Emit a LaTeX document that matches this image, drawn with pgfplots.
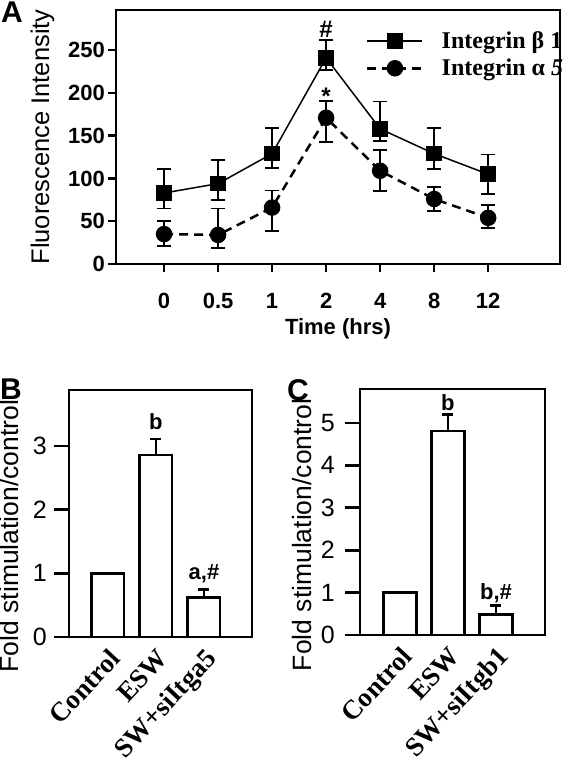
\documentclass[border=0pt]{standalone}
\usepackage{fontspec}
\setmainfont{Liberation Sans}
\newfontfamily\serifb{Liberation Serif}
\usepackage{pgfplots}
\usepackage{pgfplotstable}
\pgfplotsset{compat=1.18}

\pgfplotstableread{
x y ep em
0 83 28 18
1 94 28 19
2 129 30 17
3 241 21 14
4 158 32 14
5 129 30 18
6 105 23 23
}\betaone

\pgfplotstableread{
x y ep em
0 35 15 14
1 34 31 15
2 66 20 27
3 171 20 28
4 109 24 24
5 76 14 14
6 54 15 12
}\alphafive

\pgfplotstableread{
x y e
0 1.00 0
1 2.86 0.25
2 0.62 0.13
}\tabB

\pgfplotstableread{
x y e
0 1.00 0
1 4.81 0.38
2 0.49 0.21
}\tabC

\begin{document}
\begin{tikzpicture}
\useasboundingbox (0pt,0pt) rectangle (566pt,-759pt);

% ---------------- Panel A ----------------
\begin{axis}[
  at={(116pt,-264pt)}, anchor=south west, scale only axis,
  width=444pt, height=254pt,
  xmin=-0.89, xmax=7.33, ymin=0, ymax=297,
  xtick={0,1,2,3,4,5,6}, xticklabels={0,0.5,1,2,4,8,12},
  ytick={0,50,100,150,200,250},
  tick align=outside, xtick pos=bottom, ytick pos=left,
  major tick length=8pt,
  tick style={black, line width=2.5pt},
  axis line style={line width=2.8pt},
  /pgf/number format/assume math mode=true,
  ticklabel style={font=\fontsize{22}{24}\selectfont\bfseries, inner sep=0pt},
  xticklabel shift=21pt, yticklabel shift=3pt,
  xlabel={Time (hrs)},
  xlabel style={font=\fontsize{22}{24}\selectfont\bfseries, at={(axis description cs:0.5,-0.255)}, anchor=center, inner sep=0pt},
  ylabel={Fluorescence Intensity},
  ylabel style={font=\fontsize{25.5}{27}\selectfont, at={(axis description cs:-0.1655,0.5)}, anchor=center, inner sep=0pt},
  legend style={draw=none, fill=none, at={(axis description cs:0.563,0.915)}, anchor=north west,
    font=\serifb\bfseries\fontsize{24}{26}\selectfont, inner sep=0pt, row sep=9pt,
    nodes={inner sep=0pt}, /tikz/every odd column/.append style={column sep=18pt}},
  legend cell align=left,
  legend image code/.code={\draw[mark repeat=2,mark phase=2,#1] plot coordinates {(0pt,0pt) (27.5pt,0pt) (55pt,0pt)};},
]
\addplot[black, line width=1.5pt, mark=square*, mark size=7pt, mark options={solid},
  error bars/.cd, y dir=both, y explicit,
  error bar style={line width=1.8pt, solid},
  error mark options={rotate=90, mark size=7pt, line width=1.8pt, solid}]
  table[x=x, y=y, y error plus=ep, y error minus=em]{\betaone};
\addlegendentry{Integrin β 1}
\addplot[black, line width=2.5pt, dash pattern=on 9pt off 6pt, mark=*, mark size=7pt, mark options={solid},
  error bars/.cd, y dir=both, y explicit,
  error bar style={line width=1.8pt, solid},
  error mark options={rotate=90, mark size=7pt, line width=1.8pt, solid}]
  table[x=x, y=y, y error plus=ep, y error minus=em]{\alphafive};
\addlegendentry{Integrin α \textit{5}}
\node[font=\fontsize{24}{26}\selectfont\bfseries] at (axis cs:3,274) {\#};
\node[font=\fontsize{24}{26}\selectfont\bfseries] at (axis cs:3,196) {*};
\end{axis}

% ---------------- Panel B ----------------
\begin{axis}[
  at={(69pt,-637pt)}, anchor=south west, scale only axis,
  width=183pt, height=247pt,
  xmin=-0.81, xmax=3.0, ymin=0, ymax=3.88,
  xtick={0,1,2}, xticklabels={Control,ESW,SW+siItga5},
  ytick={0,1,2,3},
  tick align=outside, xtick pos=bottom, ytick pos=left,
  major tick length=15pt,
  tick style={black, line width=2.8pt},
  major x tick style={draw=none},
  axis line style={line width=2.8pt},
  /pgf/number format/assume math mode=true,
  yticklabel style={font=\fontsize{25}{27}\selectfont, inner sep=0pt},
  yticklabel shift=7pt,
  xticklabel style={font=\serifb\bfseries\fontsize{27}{29}\selectfont, rotate=47, anchor=north east, inner sep=0pt},
  xticklabel shift=-5pt,
  ylabel={Fold stimulation/control},
  ylabel style={font=\fontsize{26.5}{28}\selectfont, at={(axis description cs:-0.328,0.409)}, anchor=center, inner sep=0pt},
]
\addplot[ybar, bar width=0.67, fill=white, draw=black, line width=2.8pt,
  error bars/.cd, y dir=plus, y explicit,
  error bar style={line width=2.8pt},
  error mark options={rotate=90, mark size=5.5pt, line width=2.8pt}]
  table[x=x, y=y, y error=e]{\tabB};
\node[font=\fontsize{22}{24}\selectfont\bfseries] at (axis cs:1,3.38) {b};
\node[font=\fontsize{22}{24}\selectfont\bfseries] at (axis cs:2,1.0) {a,\#};
\end{axis}

% ---------------- Panel C ----------------
\begin{axis}[
  at={(360pt,-635pt)}, anchor=south west, scale only axis,
  width=185pt, height=246pt,
  xmin=-0.83, xmax=3.02, ymin=0, ymax=5.8,
  xtick={0,1,2}, xticklabels={Control,ESW,SW+siItgb1},
  ytick={0,1,2,3,4,5},
  tick align=outside, xtick pos=bottom, ytick pos=left,
  major tick length=15pt,
  tick style={black, line width=2.8pt},
  major x tick style={draw=none},
  axis line style={line width=2.8pt},
  /pgf/number format/assume math mode=true,
  yticklabel style={font=\fontsize{25}{27}\selectfont, inner sep=0pt},
  yticklabel shift=10pt,
  xticklabel style={font=\serifb\bfseries\fontsize{27}{29}\selectfont, rotate=47, anchor=north east, inner sep=0pt},
  xticklabel shift=-5pt,
  ylabel={Fold stimulation/control},
  ylabel style={font=\fontsize{26.5}{28}\selectfont, at={(axis description cs:-0.311,0.407)}, anchor=center, inner sep=0pt},
]
\addplot[ybar, bar width=0.68, fill=white, draw=black, line width=2.8pt,
  error bars/.cd, y dir=plus, y explicit,
  error bar style={line width=2.8pt},
  error mark options={rotate=90, mark size=5.5pt, line width=2.8pt}]
  table[x=x, y=y, y error=e]{\tabC};
\node[font=\fontsize{22}{24}\selectfont\bfseries] at (axis cs:1,5.47) {b};
\node[font=\fontsize{22}{24}\selectfont\bfseries] at (axis cs:2,0.99) {b,\#};
\end{axis}

% panel letters
\node[font=\bfseries\fontsize{30}{32}\selectfont] at (12pt,-12pt) {A};
\node[font=\bfseries\fontsize{30}{32}\selectfont] at (11pt,-389pt) {B};
\node[font=\bfseries\fontsize{30}{32}\selectfont] at (298pt,-390pt) {C};
\end{tikzpicture}
\end{document}
